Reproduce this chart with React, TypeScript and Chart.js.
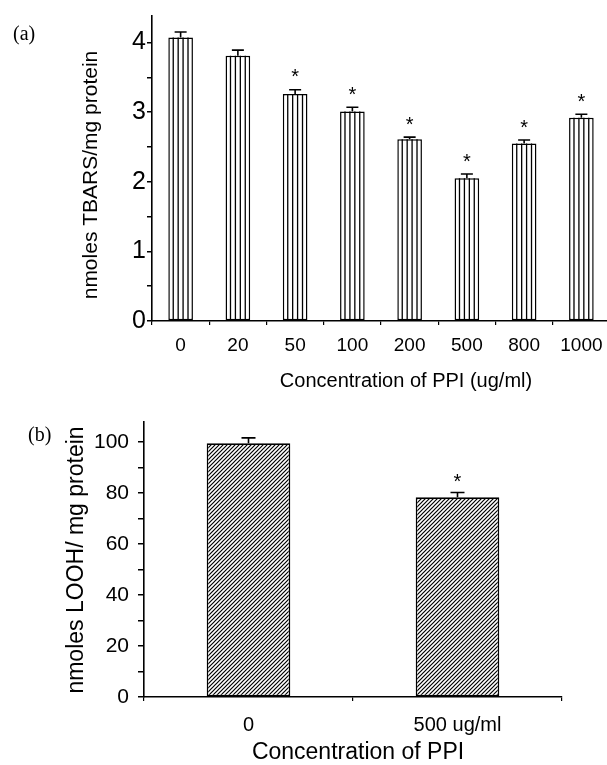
import React, { useEffect, useRef } from "react";
import { Chart, registerables } from "chart.js";
Chart.register(...registerables);

// ---- Panel (a) data ----
const concLabels = ["0", "20", "50", "100", "200", "500", "800", "1000"];
const tbarsMeans = [4.07, 3.81, 3.26, 3.01, 2.61, 2.05, 2.55, 2.92];
const tbarsErrors = [0.08, 0.08, 0.06, 0.06, 0.03, 0.06, 0.05, 0.05];
const tbarsSignif = [false, false, true, true, true, true, true, true];
const tbarsAxisMax = 4.38;
const tbarsTickStep = 0.5;
const tbarsLabelStep = 1;

// ---- Panel (b) data ----
const loohLabels = ["0", "500 ug/ml"];
const loohMeans = [99.5, 78.3];
const loohErrors = [2.1, 1.9];
const loohSignif = [false, true];
const loohAxisMax = 108;
const loohTickStep = 10;
const loohLabelStep = 20;

const SANS = "'Liberation Sans', Arial, sans-serif";
const SERIF = "'Liberation Serif', 'Times New Roman', serif";

function makeHatch(): CanvasPattern | string {
  const c = document.createElement("canvas");
  c.width = 4;
  c.height = 4;
  const g = c.getContext("2d");
  if (!g) return "#fff";
  g.fillStyle = "#fff";
  g.fillRect(0, 0, 4, 4);
  g.strokeStyle = "#000";
  g.lineWidth = 1.2;
  g.beginPath();
  g.moveTo(-1, 5);
  g.lineTo(5, -1);
  g.moveTo(-1, 1);
  g.lineTo(1, -1);
  g.moveTo(3, 5);
  g.lineTo(5, 3);
  g.stroke();
  const p = g.createPattern(c, "repeat");
  return p || "#fff";
}

function barGeom(el: any) {
  return el.getProps(["x", "y", "base", "width"], true);
}

const stripesPlugin = {
  id: "stripes",
  afterDatasetsDraw(chart: any) {
    const ctx = chart.ctx;
    const meta = chart.getDatasetMeta(0);
    ctx.save();
    ctx.strokeStyle = "#000";
    ctx.lineWidth = 1.3;
    meta.data.forEach((el: any) => {
      const { x, y, base, width } = barGeom(el);
      const left = x - width / 2;
      ctx.beginPath();
      for (let i = 1; i < 5; i++) {
        const xx = left + (i * width) / 5;
        ctx.moveTo(xx, y);
        ctx.lineTo(xx, base);
      }
      ctx.stroke();
    });
    ctx.restore();
  },
};

function errorPlugin(errors: number[], signif: boolean[], capW: number, starOffset: number) {
  return {
    id: "errs",
    afterDatasetsDraw(chart: any) {
      const ctx = chart.ctx;
      const meta = chart.getDatasetMeta(0);
      const ys = chart.scales.y;
      const vals = chart.data.datasets[0].data as number[];
      ctx.save();
      ctx.strokeStyle = "#000";
      ctx.lineWidth = 1.6;
      meta.data.forEach((el: any, i: number) => {
        const { x } = barGeom(el);
        const yTop = ys.getPixelForValue(vals[i]);
        const yErr = ys.getPixelForValue(vals[i] + errors[i]);
        ctx.beginPath();
        ctx.moveTo(x, yTop);
        ctx.lineTo(x, yErr);
        ctx.moveTo(x - capW / 2, yErr);
        ctx.lineTo(x + capW / 2, yErr);
        ctx.stroke();
        if (signif[i]) {
          ctx.fillStyle = "#000";
          ctx.font = `20px ${SANS}`;
          ctx.textAlign = "center";
          ctx.textBaseline = "alphabetic";
          const cy = yErr - starOffset;
          ctx.fillText("*", x, cy + 0.58 * 20);
        }
      });
      ctx.restore();
    },
  };
}

type TextSpec = { text: string; x: number; y: number; font: string; rotate?: boolean; align?: CanvasTextAlign };

function textPlugin(items: TextSpec[]) {
  return {
    id: "texts",
    afterDraw(chart: any) {
      const ctx = chart.ctx;
      ctx.save();
      ctx.fillStyle = "#000";
      items.forEach((t) => {
        ctx.save();
        ctx.font = t.font;
        ctx.textAlign = t.align || "center";
        ctx.textBaseline = "middle";
        ctx.translate(t.x, t.y);
        if (t.rotate) ctx.rotate(-Math.PI / 2);
        ctx.fillText(t.text, 0, 0);
        ctx.restore();
      });
      ctx.restore();
    },
  };
}

function stepTicks(step: number, max: number) {
  return (s: any) => {
    const t: any[] = [];
    const n = Math.floor(max / step + 1e-9);
    for (let i = 0; i <= n; i++) t.push({ value: +(i * step).toFixed(6) });
    s.ticks = t;
  };
}

function labelEvery(step: number) {
  return (v: any) => (Math.abs(v / step - Math.round(v / step)) < 1e-6 ? String(v) : "");
}

export default function App() {
  const refA = useRef<HTMLCanvasElement>(null);
  const refB = useRef<HTMLCanvasElement>(null);

  useEffect(() => {
    if (!refA.current || !refB.current) return;
    const chartA = new Chart(refA.current, {
      type: "bar",
      data: {
        labels: concLabels,
        datasets: [
          {
            data: tbarsMeans,
            backgroundColor: "#fff",
            borderColor: "#000",
            borderWidth: 1.5,
            borderSkipped: false,
            categoryPercentage: 1,
            barPercentage: 0.43,
          },
        ],
      },
      options: {
        animation: false,
        responsive: false,
        events: [],
        layout: { padding: { left: 0, top: 15, right: 2, bottom: 0 } },
        plugins: { legend: { display: false }, tooltip: { enabled: false } },
        scales: {
          x: {
            grid: { offset: true, drawOnChartArea: false, tickLength: 4, color: "#000", lineWidth: 1.2 },
            border: { display: true, color: "#000", width: 1.6 },
            ticks: { font: { size: 19, family: SANS }, color: "#000", padding: 9, maxRotation: 0, autoSkip: false },
            afterFit: (s: any) => {
              s.height = 79;
            },
          },
          y: {
            min: 0,
            max: tbarsAxisMax,
            afterBuildTicks: stepTicks(tbarsTickStep, tbarsAxisMax),
            ticks: {
              autoSkip: false,
              callback: labelEvery(tbarsLabelStep),
              font: { size: 25, family: SANS },
              color: "#000",
              padding: 1,
            },
            grid: { drawOnChartArea: false, tickLength: 5, color: "#000", lineWidth: 1.5 },
            border: { display: true, color: "#000", width: 1.6 },
            afterFit: (s: any) => {
              s.width = 152;
            },
          },
        },
      },
      plugins: [
        stripesPlugin,
        errorPlugin(tbarsErrors, tbarsSignif, 12, 18),
        textPlugin([
          { text: "(a)", x: 13, y: 35, font: `20px ${SERIF}`, align: "left" },
          { text: "nmoles TBARS/mg protein", x: 91, y: 175, font: `21px ${SANS}`, rotate: true },
          { text: "Concentration of PPI (ug/ml)", x: 406, y: 381, font: `20px ${SANS}` },
        ]),
      ],
    } as any);

    const chartB = new Chart(refB.current, {
      type: "bar",
      data: {
        labels: loohLabels,
        datasets: [
          {
            data: loohMeans,
            backgroundColor: makeHatch() as any,
            borderColor: "#000",
            borderWidth: 1.6,
            borderSkipped: false,
            categoryPercentage: 1,
            barPercentage: 0.4,
          },
        ],
      },
      options: {
        animation: false,
        responsive: false,
        events: [],
        layout: { padding: { left: 0, top: 15, right: 45, bottom: 0 } },
        plugins: { legend: { display: false }, tooltip: { enabled: false } },
        scales: {
          x: {
            grid: { offset: true, drawOnChartArea: false, tickLength: 4, color: "#000", lineWidth: 1.2 },
            border: { display: true, color: "#000", width: 1.6 },
            ticks: { font: { size: 20, family: SANS }, color: "#000", padding: 12, maxRotation: 0, autoSkip: false },
            afterFit: (s: any) => {
              s.height = 68;
            },
          },
          y: {
            min: 0,
            max: loohAxisMax,
            afterBuildTicks: stepTicks(loohTickStep, loohAxisMax),
            ticks: {
              autoSkip: false,
              callback: labelEvery(loohLabelStep),
              font: { size: 21, family: SANS },
              color: "#000",
              padding: 9,
            },
            grid: { drawOnChartArea: false, tickLength: 6, color: "#000", lineWidth: 1.5 },
            border: { display: true, color: "#000", width: 1.6 },
            afterFit: (s: any) => {
              s.width = 144;
            },
          },
        },
      },
      plugins: [
        errorPlugin(loohErrors, loohSignif, 14, 16),
        textPlugin([
          { text: "(b)", x: 28, y: 36, font: `20px ${SERIF}`, align: "left" },
          { text: "nmoles LOOH/ mg protein", x: 77, y: 160, font: `23px ${SANS}`, rotate: true },
          { text: "Concentration of PPI", x: 358, y: 353, font: `23px ${SANS}` },
        ]),
      ],
    } as any);

    return () => {
      chartA.destroy();
      chartB.destroy();
    };
  }, []);

  return (
    <div style={{ position: "absolute", left: 0, top: 0, width: 607, height: 765, overflow: "hidden", background: "#fff" }}>
      <canvas ref={refA} width={612} height={400} style={{ position: "absolute", left: 0, top: 0, display: "block" }} />
      <canvas ref={refB} width={607} height={365} style={{ position: "absolute", left: 0, top: 400, display: "block" }} />
    </div>
  );
}
